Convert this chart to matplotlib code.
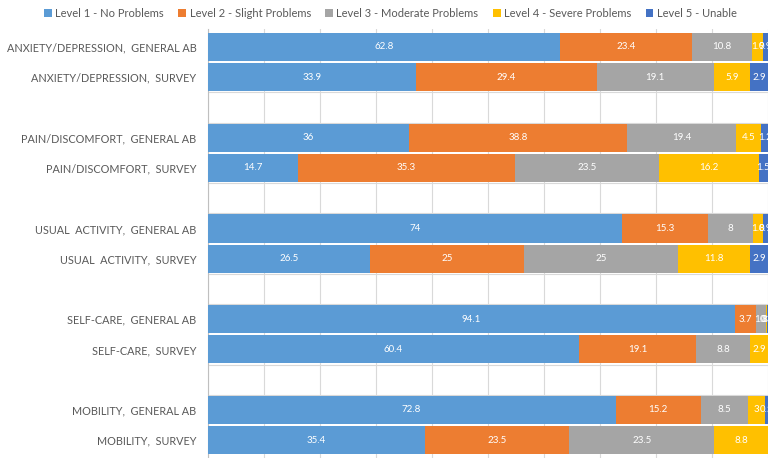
import numpy as np
import matplotlib
matplotlib.use("Agg")
import matplotlib.pyplot as plt

plt.rcParams['font.family'] = ['Lato', 'DejaVu Sans']

# rows top to bottom; None marks an empty spacer row
rows = ["ANXIETY/DEPRESSION,  GENERAL AB", "ANXIETY/DEPRESSION,  SURVEY", None,
        "PAIN/DISCOMFORT,  GENERAL AB", "PAIN/DISCOMFORT,  SURVEY", None,
        "USUAL  ACTIVITY,  GENERAL AB", "USUAL  ACTIVITY,  SURVEY", None,
        "SELF-CARE,  GENERAL AB", "SELF-CARE,  SURVEY", None,
        "MOBILITY,  GENERAL AB", "MOBILITY,  SURVEY"]

levels = ["Level 1 - No Problems", "Level 2 - Slight Problems",
          "Level 3 - Moderate Problems", "Level 4 - Severe Problems",
          "Level 5 - Unable"]
colors = ["#5B9BD5", "#ED7D31", "#A5A5A5", "#FFC000", "#4472C4"]

level1 = [62.8, 33.9, 0, 36, 14.7, 0, 74, 26.5, 0, 94.1, 60.4, 0, 72.8, 35.4]
level2 = [23.4, 29.4, 0, 38.8, 35.3, 0, 15.3, 25, 0, 3.7, 19.1, 0, 15.2, 23.5]
level3 = [10.8, 19.1, 0, 19.4, 23.5, 0, 8, 25, 0, 1.8, 8.8, 0, 8.5, 23.5]
level4 = [1.9, 5.9, 0, 4.5, 16.2, 0, 1.8, 11.8, 0, 0.3, 2.9, 0, 3, 8.8]
level5 = [0.9, 2.9, 0, 1.2, 1.5, 0, 0.9, 2.9, 0, 0.1, 0, 0, 0.5, 0]

data = np.array([level1, level2, level3, level4, level5], dtype=float)
totals = data.sum(axis=0)
totals[totals == 0] = 1
share = data / totals * 100  # 100% stacked

fig = plt.figure(figsize=(7.7, 4.58), dpi=100)
ax = fig.add_axes([207.5 / 770, 0, (768 - 207.5) / 770, (458 - 29) / 458])

y = np.arange(len(rows))
left = np.zeros(len(rows))
for k in range(5):
    ax.barh(y, share[k], left=left, height=0.93, color=colors[k],
            label=levels[k], zorder=3)
    for i in range(len(rows)):
        v = data[k, i]
        if v > 0:
            ax.text(left[i] + share[k, i] / 2, y[i], f"{v:g}", ha='center',
                    va='center', color='white', fontsize=7, zorder=4)
    left += share[k]

# thin rules bounding the spacer rows
for i, r in enumerate(rows):
    if r is None:
        for yy in (i - 0.5, i + 0.5):
            ax.axhline(yy, color="#D9D9D9", lw=0.8, zorder=2)

ax.set_xlim(0, 100)
ax.set_ylim(13.59, -0.595)
ax.set_xticks(np.arange(0, 101, 10))
ax.grid(axis='x', color="#D9D9D9", lw=0.8, zorder=0)
ax.tick_params(axis='x', bottom=False, labelbottom=False)
ax.set_yticks(y)
ax.set_yticklabels([r if r else "" for r in rows], fontsize=7.8, color="#595959")
ax.tick_params(axis='y', length=0, pad=8)
for s in ['top', 'right', 'bottom']:
    ax.spines[s].set_visible(False)
ax.spines['left'].set_color("#BFBFBF")
ax.spines['left'].set_linewidth(0.8)

fig.legend(loc='upper center', bbox_to_anchor=(0.507, 1.005), ncol=5, frameon=False,
           fontsize=8, labelcolor="#595959", handlelength=0.7, handleheight=0.7,
           handletextpad=0.3, columnspacing=1.3)

fig.savefig("out.png", dpi=100)
